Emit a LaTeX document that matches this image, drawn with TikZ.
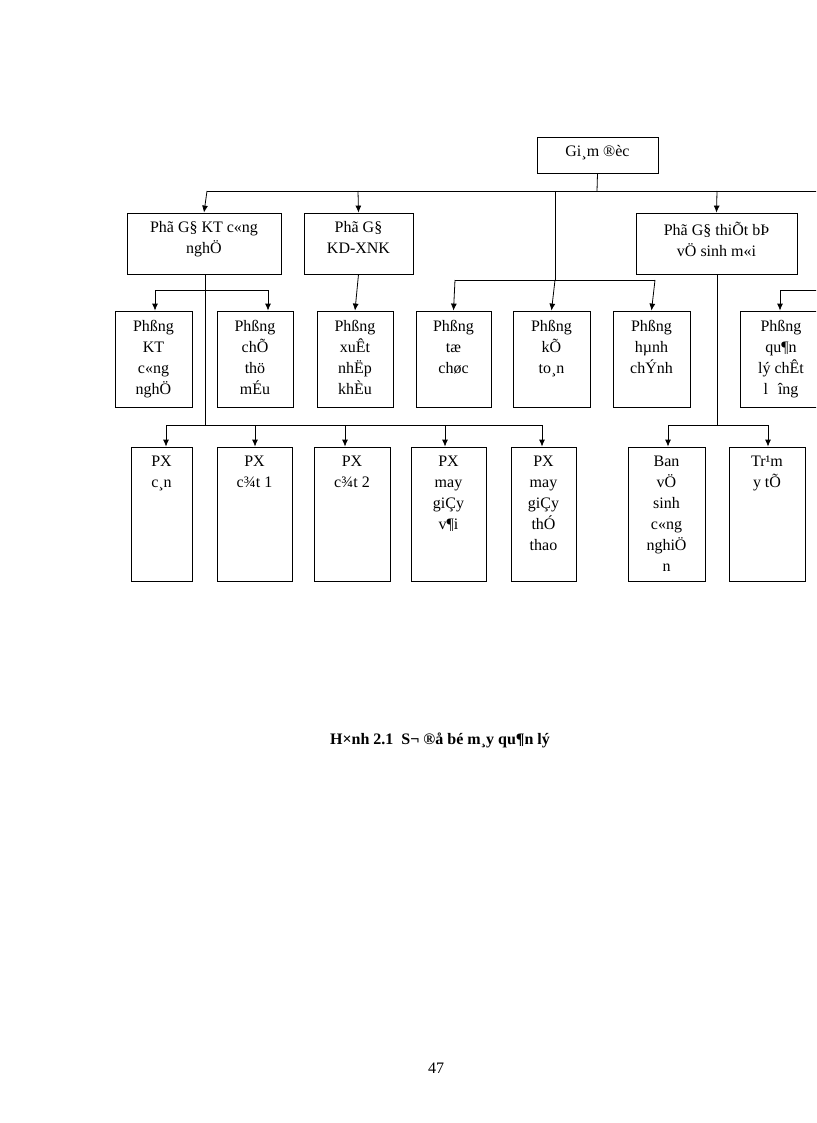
\documentclass[tikz,border=0pt]{standalone}
\usepackage{fontspec}
\setmainfont{Liberation Serif}
\begin{document}
\begin{tikzpicture}[x=1pt,y=-1pt,
  box/.style={draw,line width=0.8pt,inner sep=0pt},
  txt/.style={below,align=center,inner sep=0pt,font=\fontsize{16}{21}\selectfont},
  ln/.style={line width=0.8pt},
  ar/.style={line width=0.8pt,-{Latex[length=7pt,width=6pt]}}]
\usetikzlibrary{arrows.meta}
\useasboundingbox (0,0) rectangle (816,1123);
\clip (0,0) rectangle (816,1123);
\newcommand{\bx}[6]{\node[box,minimum width=#4-#2,minimum height=#5-#3] (#1) at ({(#2+#4)/2},{(#3+#5)/2}) {};
  \node[txt] at ([yshift=-#6]#1.north) {\strut};}
% boxes
\newcommand{\mkbox}[7]{\node[box,minimum width=#4-#2,minimum height=#5-#3] (#1) at ({(#2+#4)/2},{(#3+#5)/2}) {};
  \node[txt] (#1t) at ([yshift=-#6]#1.north) {#7};}
\mkbox{gd}{537}{137}{658}{173}{9}{Gi¸m ®èc}
\mkbox{kt}{127}{213}{281}{274}{9}{Phã G§ KT c«ng\\nghÖ}
\mkbox{kd}{304}{213}{413}{274}{9}{Phã G§\\KD-XNK}
\mkbox{tb}{636}{213}{797}{274}{9}{Phã G§ thiÕt bÞ\\vÖ sinh m«i}
\mkbox{p1}{115}{311}{192}{407}{9}{Phßng\\KT\\c«ng\\nghÖ}
\mkbox{p2}{217}{311}{293}{407}{9}{Phßng\\chÕ\\thö\\mÉu}
\mkbox{p3}{317}{311}{393}{407}{9}{Phßng\\xuÊt\\nhËp\\khÈu}
\mkbox{p4}{416}{311}{491}{407}{9}{Phßng\\tæ\\chøc}
\mkbox{p5}{513}{311}{590}{407}{9}{Phßng\\kÕ\\to¸n}
\mkbox{p6}{613}{311}{690}{407}{9}{Phßng\\hµnh\\chÝnh}
\mkbox{p7}{740}{311}{822}{407}{9}{Phßng\\qu¶n\\lý chÊt\\l\hspace{10pt}îng}
\mkbox{x1}{131}{447}{192}{581}{9}{PX\\c¸n}
\mkbox{x2}{217}{447}{292}{581}{9}{PX\\c¾t 1}
\mkbox{x3}{314}{447}{390}{581}{9}{PX\\c¾t 2}
\mkbox{x4}{411}{447}{486}{581}{9}{PX\\may\\giÇy\\v¶i}
\mkbox{x5}{511}{447}{576}{581}{9}{PX\\may\\giÇy\\thÓ\\thao}
\mkbox{b1}{628}{447}{705}{581}{9}{Ban\\vÖ\\sinh\\c«ng\\nghiÖ\\n}
\mkbox{b2}{729}{447}{805}{581}{9}{Tr¹m\\y tÕ}
% connectors
\coordinate (rt) at (822,191);
\draw[ln] (gd.south) -- (597,191);
\draw[ln] (207,191) -- (rt);
\draw[ar] (207,191) -- (kt.north);
\draw[ar] (358,191) -- (kd.north);
\draw[ar] (717,191) -- (tb.north);
\draw[ln] (555,191) -- (555,280);
\draw[ln] (455,280) -- (655,280);
\draw[ar] (455,280) -- (p4.north);
\draw[ar] (555,280) -- (p5.north);
\draw[ar] (655,280) -- (p6.north);
\draw[ar] (kd.south) -- (p3.north);
\draw[ln] (205,274) -- (205,425);
\draw[ln] (155,290) -- (268,290);
\draw[ar] (155,290) -- (p1.north -| 155,0);
\draw[ar] (268,290) -- (p2.north -| 268,0);
\draw[ln] (166,425) -- (542,425);
\draw[ar] (166,425) -- (x1.north -| 166,0);
\draw[ar] (255,425) -- (x2.north -| 255,0);
\draw[ar] (345,425) -- (x3.north -| 345,0);
\draw[ar] (445,425) -- (x4.north -| 445,0);
\draw[ar] (542,425) -- (x5.north -| 542,0);
\draw[ln] (717,274) -- (717,425);
\draw[ln] (668,425) -- (768,425);
\draw[ar] (668,425) -- (b1.north -| 668,0);
\draw[ar] (768,425) -- (b2.north -| 768,0);
\draw[ln] (822,290) -- (780,290);
\draw[ar] (780,290) -- (p7.north -| 780,0);
\node[font=\fontsize{16}{20}\selectfont\bfseries] (cap) at (440,740) {H×nh 2.1\ \ S¬ ®å bé m¸y qu¶n lý};
\node[font=\fontsize{16}{20}\selectfont] (pg) at (436,1068) {47};
\end{tikzpicture}
\end{document}
